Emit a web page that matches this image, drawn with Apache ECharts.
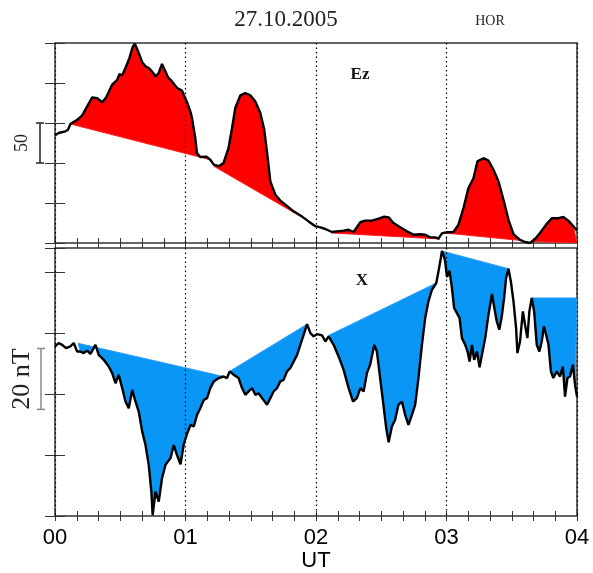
<!DOCTYPE html>
<html>
<head>
<meta charset="utf-8">
<script src="https://cdn.jsdelivr.net/npm/echarts@6/dist/echarts.min.js"></script>
<style>
  html, body { margin: 0; padding: 0; background: #fff; }
  #main { width: 593px; height: 573px; }
</style>
</head>
<body>
<div id="main"></div>
<script>
// time in minutes after 00 UT
const ezTime = [0, 1.7, 4.8, 6.0, 7.1, 10.2, 12.5, 14.8, 17.1, 19.4, 21.7, 23.5, 26.3, 28.6, 29.6, 30.9, 32.4, 34.2, 35.7, 36.7,
  38.2, 40.1, 41.6, 43.1, 44.6, 46.2, 47.7, 49.2, 50.4, 52, 53.8, 56.1, 58.4, 60.7, 62.3, 63, 64.5, 65.3, 66.8, 69.6,
  71.4, 73, 75.3, 77.5, 79.8, 81.4, 82.9, 85.2, 87.5, 89.8, 92.1, 94.4, 96.2, 97.8, 99, 101.3, 103.6, 105.9, 109.7, 113.6,
  116.6, 119.7, 122, 124.3, 127.3, 129.6, 132.7, 135, 137.3, 140.4, 142.6, 145.7, 148.8, 151.4, 153.4, 155.6, 158.7, 161.8, 164.8, 167.9,
  170.2, 172.5, 174.8, 176.3, 177.9, 180.2, 183.2, 185.5, 187.8, 190.1, 192.4, 194.2, 197, 199.3, 201.6, 203.9, 206.2, 208.5, 210.8, 213.8,
  216.1, 218.4, 220.7, 223, 225.8, 228.4, 231.4, 233.7, 236, 238.3, 240]
const ezValue = [134.6, 137.5, 139.6, 141.7, 148.75, 154, 159.6, 170.8, 182, 181, 176, 182, 198, 204, 211, 209.6, 218.75, 231, 245, 249,
  239.6, 226, 220.8, 218.75, 214.6, 208.4, 212.5, 223.75, 216.6, 207, 202, 193.75, 190.4, 176, 164, 156, 131, 112, 107.5, 108,
  104, 98, 96, 100, 118.75, 143.75, 168.75, 184.6, 187.5, 184.6, 177, 162.5, 141.7, 106, 77, 60.4, 53, 48, 39.6, 33,
  27, 21, 19.5, 17.5, 13.75, 14.6, 15.4, 16.6, 13.75, 26, 28, 28, 30.4, 33, 32, 25, 19.6, 14.6, 10.4, 11,
  10.4, 7, 7, 5.4, 12, 13.5, 13.75, 23, 43.75, 68.75, 81, 102, 106, 103, 91.6, 77, 54, 29, 11, 4,
  1.25, 0, 5, 12.5, 23, 31, 31, 32.5, 28, 21, 15.4]
// red areas: straight lower edge from -> to
const ezFillFrom = [[7.1, 148.75], [73, 96], [127.3, 12.5], [179.4, 12.5], [219.5, 2]]
const ezFillTo = [[71.4, 104], [114.3, 31], [177, 5], [214.6, 3], [240, 0]]

const xTime = [0, 1.7, 3.3, 5.1, 7.1, 8.6, 10.2, 11.7, 13.2, 14.8, 16.3, 18.6, 20.1, 22.4, 24.7, 26.3, 27.8, 29.3, 30.9, 32.4,
  33.9, 35.5, 37, 38.5, 40.1, 41.6, 43.1, 44.3, 44.9, 46.2, 47.7, 49.2, 50.8, 53.1, 54.6, 56.1, 57.7, 59.2, 60.7, 62.3,
  63.8, 65.3, 66.8, 68.4, 69.9, 71.4, 73, 75.3, 77.5, 79.1, 80.3, 82.1, 84.4, 86, 87.5, 89, 90.6, 92.1, 93.6, 95.2,
  97.5, 99, 100.5, 102.1, 103.6, 105.1, 106.7, 108.2, 109.7, 111.3, 112.8, 114.3, 115.9, 117.4, 118.9, 120.5, 122.8, 124.3, 125.8, 128.1,
  130.4, 132.7, 135, 137, 138.8, 140.4, 141.9, 143.4, 144.9, 146.8, 148, 149.5, 151, 152.3, 153.4, 154.9, 156.4, 157.9, 159.5, 161,
  162.5, 164.1, 165.6, 167.1, 168.7, 170.2, 171.7, 173.3, 175.3, 176.3, 177.4, 177.9, 178.6, 179.4, 180.2, 181.4, 182.5, 183.5, 184.8, 186,
  187.1, 188.6, 189.7, 190.6, 191.7, 192.7, 194, 195.2, 196.3, 197.8, 199.3, 200.9, 202, 203.1, 204.3, 205.4, 206.5, 207.4, 208.5, 209.6,
  210.8, 212, 212.6, 213.8, 215.1, 216.1, 217.2, 218.1, 219.2, 220.3, 221.5, 222.7, 223.8, 224.8, 225.8, 226.9, 228, 229.1, 230.7, 232.2,
  233.5, 234.5, 235.6, 236.8, 238.1, 239.1, 240]
const xValue = [55.7, 56.8, 56.2, 55.1, 55.7, 56.8, 54, 54, 53.5, 54.3, 53.2, 56.2, 52.9, 51.3, 49.1, 46.9, 43.6, 46.4, 42, 37.6,
  35.4, 41.4, 37.6, 34.3, 27.7, 23.3, 16.8, 8, 0.3, 8, 4.7, 12.4, 16.8, 19, 23.3, 20, 17, 23.5, 27, 29.9,
  29.4, 33.2, 35.4, 38.1, 38.7, 42, 44.2, 45.3, 45.8, 45.3, 47.5, 46.4, 45.3, 42, 39.8, 40.9, 42, 39.8, 40.3, 38.7,
  36.5, 38.7, 40.9, 42, 44.2, 44.7, 47.5, 48.6, 50.7, 52.9, 56.2, 59.5, 63, 60.1, 59, 59.7, 59.3, 57.3, 59, 56.2,
  52.4, 48, 42, 37.6, 38.7, 42, 40.9, 46.9, 49.7, 56.2, 54, 45.3, 36.5, 28.8, 24.2, 29.4, 31.6, 36.5, 37.6, 33.2,
  29.9, 33.2, 36.5, 45.3, 56.2, 65, 70.5, 74.3, 76.5, 80.3, 84.7, 87, 85.8, 83.6, 78.5, 80.5, 74.9, 68.3, 66.6, 65,
  58.4, 56.2, 54, 50.7, 56.2, 51.3, 54, 48.8, 52.9, 58.4, 66.1, 72.9, 68.3, 63.9, 61.2, 65.5, 71.6, 78.2, 81.2, 77,
  70.5, 61.7, 53.5, 57.3, 67.2, 62.8, 58.4, 67.2, 71.6, 67.2, 56.2, 54, 57.3, 62.3, 59.5, 56.2, 47.5, 45.3, 47.5, 45.8,
  49.1, 39.2, 45.3, 45.8, 49.7, 43.1, 39.2]
// blue areas: straight upper edge from -> to
const xFillFrom = [[10.6, 56.7], [80.3, 47.5], [125.8, 59.3], [177.9, 87], [219.2, 71.6]]
const xFillTo = [[77.5, 45.8], [115.9, 63], [175.3, 76.5], [208.5, 81.2], [240, 71.6]]

const hourLabels = ['00', '01', '02', '03', '04']
const ezScaleBar = [100, 150]
const xScaleBar = [35, 55]

const chart = echarts.init(document.getElementById('main'))

const tickAxis = (grid, position, extra) => Object.assign({
  type: 'value', gridIndex: grid, position, min: 0, max: 240, interval: 10,
  axisLine: { show: false },
  axisTick: { show: true, inside: true, length: 5, lineStyle: { color: '#333', width: 1 } },
  axisLabel: { show: false },
  splitLine: { show: false }
}, extra)

const hourAxis = (grid, showLabels) => ({
  type: 'value', gridIndex: grid, position: 'bottom', min: 0, max: 240, interval: 60, z: 5,
  axisLine: { show: false },
  axisTick: { show: false },
  axisLabel: {
    show: showLabels, margin: 11, color: '#000', fontFamily: 'Liberation Sans', fontSize: 22,
    formatter: v => hourLabels[v / 60]
  },
  name: showLabels ? 'UT' : '', nameLocation: 'middle', nameGap: 34,
  nameTextStyle: { color: '#000', fontFamily: 'Liberation Sans', fontSize: 22 },
  splitLine: { show: true, lineStyle: { color: '#000', type: [1.5, 3], width: 1.2 } }
})

const valAxis = (grid, position, max, interval) => ({
  type: 'value', gridIndex: grid, position, min: 0, max, interval,
  axisLine: { show: false },
  axisTick: { show: true, inside: true, length: 10, lineStyle: { color: '#333', width: 1 } },
  axisLabel: { show: false },
  splitLine: { show: false }
})

const fillSeries = (grid, times, values, from, to, fill, stroke) => ({
  type: 'custom', xAxisIndex: grid * 3, yAxisIndex: grid * 2, z: 2, clip: true,
  data: from.map((p, i) => [p[0], p[1], to[i][0], to[i][1]]),
  encode: { x: [0, 2], y: [1, 3] },
  renderItem: (params, api) => {
    const m0 = api.value(0), m1 = api.value(2)
    const pts = [api.coord([m0, api.value(1)])]
    times.forEach((t, i) => { if (t > m0 && t < m1) pts.push(api.coord([t, values[i]])) })
    pts.push(api.coord([m1, api.value(3)]))
    return { type: 'polygon', shape: { points: pts }, style: { fill, stroke, lineWidth: 1 } }
  }
})

const curveSeries = (grid, times, values) => ({
  type: 'line', xAxisIndex: grid * 3, yAxisIndex: grid * 2, z: 4,
  data: times.map((t, i) => [t, values[i]]),
  showSymbol: false, symbol: 'none', clip: true,
  lineStyle: { color: '#000', width: 2.4 }
})

chart.setOption({
  animation: false,
  grid: [
    { left: 55, right: 16, top: 43, height: 200, show: true, borderColor: '#333', borderWidth: 1.5 },
    { left: 55, right: 16, top: 248, height: 268, show: true, borderColor: '#333', borderWidth: 1.5 }
  ],
  xAxis: [
    tickAxis(0, 'bottom'), tickAxis(0, 'top'), hourAxis(0, false),
    tickAxis(1, 'bottom'), tickAxis(1, 'top'), hourAxis(1, true)
  ],
  yAxis: [
    valAxis(0, 'left', 250, 50), valAxis(0, 'right', 250, 50),
    valAxis(1, 'left', 88, 20), valAxis(1, 'right', 88, 20)
  ],
  series: [
    fillSeries(0, ezTime, ezValue, ezFillFrom, ezFillTo, '#ff0000', '#ff2020'),
    curveSeries(0, ezTime, ezValue),
    fillSeries(1, xTime, xValue, xFillFrom, xFillTo, '#0a96f5', '#2a9dff'),
    curveSeries(1, xTime, xValue)
  ]
})

// scale bars placed through the value axes
const barY = (axis, v) => chart.convertToPixel({ yAxisIndex: axis }, v)
const scaleBar = (axis, vals, x, color) => {
  const y0 = barY(axis, vals[0]), y1 = barY(axis, vals[1])
  const st = { stroke: color, lineWidth: 1.5 }
  return [
    { type: 'line', shape: { x1: x, y1: y0, x2: x, y2: y1 }, style: st },
    { type: 'line', shape: { x1: x - 4, y1: y0, x2: x + 4, y2: y0 }, style: st },
    { type: 'line', shape: { x1: x - 4, y1: y1, x2: x + 4, y2: y1 }, style: st }
  ]
}
const ezMid = (barY(0, ezScaleBar[0]) + barY(0, ezScaleBar[1])) / 2
const xMid = (barY(2, xScaleBar[0]) + barY(2, xScaleBar[1])) / 2

chart.setOption({
  graphic: [
    ...scaleBar(0, ezScaleBar, 40, '#222'),
    ...scaleBar(2, xScaleBar, 41, '#888'),
    { type: 'text', x: 22, y: ezMid, rotation: Math.PI / 2,
      style: { text: '50', font: '18px "Liberation Serif"', fill: '#222', align: 'center', verticalAlign: 'middle' } },
    { type: 'text', x: 22, y: xMid, rotation: Math.PI / 2,
      style: { text: '20 nT', font: '26px "Liberation Serif"', fill: '#222', align: 'center', verticalAlign: 'middle' } },
    { type: 'text', x: 286, y: 20,
      style: { text: '27.10.2005', font: '23px "Liberation Serif"', fill: '#222', align: 'center', verticalAlign: 'middle' } },
    { type: 'text', x: 490, y: 21,
      style: { text: 'HOR', font: '14px "Liberation Serif"', fill: '#222', align: 'center', verticalAlign: 'middle' } },
    { type: 'text', x: 360, y: 75,
      style: { text: 'Ez', font: 'bold 17px "Liberation Serif"', fill: '#111', align: 'center', verticalAlign: 'middle' } },
    { type: 'text', x: 362, y: 281,
      style: { text: 'X', font: 'bold 17px "Liberation Serif"', fill: '#111', align: 'center', verticalAlign: 'middle' } }
  ]
})
</script>
</body>
</html>
